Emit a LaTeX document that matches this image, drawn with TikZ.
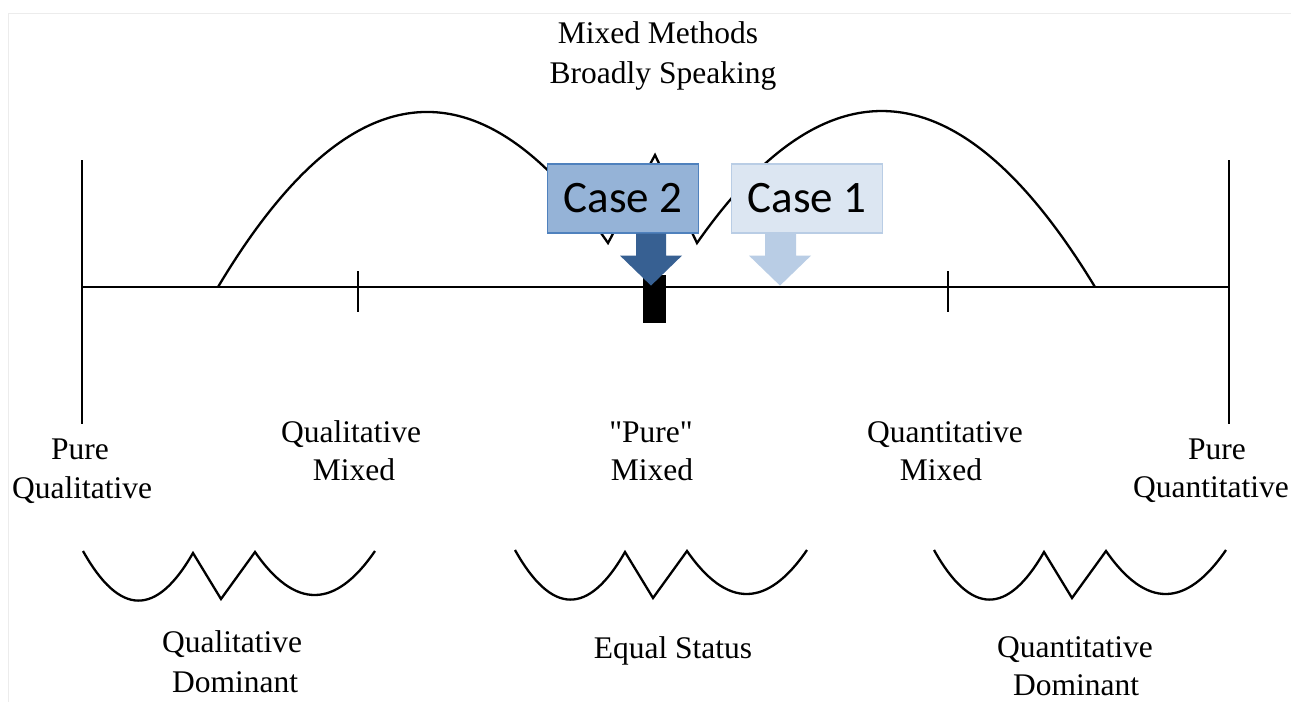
\documentclass[tikz,border=0pt]{standalone}
\usepackage{fontspec}
\setmainfont{Liberation Serif}[Ligatures=TeXOff]
\newfontfamily\calfont{Carlito}
\usetikzlibrary{calc}
\definecolor{casedark}{HTML}{95B3D7}
\definecolor{casedarkline}{HTML}{4F81BD}
\definecolor{caselight}{HTML}{DCE6F2}
\definecolor{caselightline}{HTML}{B9CDE5}
\definecolor{arrowdark}{HTML}{376092}
\definecolor{arrowlight}{HTML}{B9CDE5}
\begin{document}
\begin{tikzpicture}[x=1pt,y=-1pt,
  axis/.style={line width=2.6pt,black},
  curve/.style={line width=2.3pt,black,line join=miter},
  lbl/.style={font=\fontsize{31.5}{38}\selectfont,inner sep=0pt,anchor=base},
  casebox/.style={font=\calfont\fontsize{45}{50}\selectfont,inner sep=0pt,
    minimum width=151pt,minimum height=69pt,line width=1.2pt},
  wshape/.pic={\draw[curve] (0,0) .. controls (36.7,65.6) and (73.3,66) .. (110,2)
     -- (138,48) -- (172,1) .. controls (212,58.7) and (252,58.3) .. (292,0);}
]
\useasboundingbox (0,0) rectangle (1291,702);
\fill[white] (0,0) rectangle (1291,702);
% faint frame
\draw[gray!15,line width=1pt] (8,702) -- (8,13) -- (1291,13);

% title
\node[lbl] (t1) at (658,43) {Mixed Methods};
\node[lbl] (t2) at (663,83) {Broadly Speaking};

% axis
\coordinate (L) at (82,287);
\coordinate (R) at (1229,287);
\draw[axis] (L) -- (R);
\draw[axis] (82,160) -- (82,424);
\draw[axis] (1229,160) -- (1229,424);
\draw[axis] (358,271) -- (358,312);
\draw[axis] (948,271) -- (948,312);

% big curve
\draw[curve] (218,287) .. controls (348,69.3) and (478,54.7) .. (608,243)
  -- (655,155) -- (697,243)
  .. controls (829.7,53.4) and (962.3,68.1) .. (1095,287);

% black bar
\fill[black] (643,275) rectangle (666,323);

% case boxes
\node[casebox,draw=casedarkline,fill=casedark] (c2) at (623,198.5) {Case 2};
\node[casebox,draw=caselightline,fill=caselight] (c1) at (807,198.5) {Case 1};

% block arrows
\fill[arrowdark] ($(c2.south)+(13,0)$) -- ++(30,0) -- ++(0,22) -- ++(16,0)
  -- ($(c2.south)+(28,52)$) -- ($(c2.south)+(-3,22)$) -- ++(16,0) -- cycle;
\fill[arrowlight] ($(c1.south)+(-42,0)$) -- ++(31,0) -- ++(0,22) -- ++(15,0)
  -- ($(c1.south)+(-27,52)$) -- ($(c1.south)+(-58,22)$) -- ++(16,0) -- cycle;

% position labels
\node[lbl] (pq1) at (80,459) {Pure};
\node[lbl] (pq2) at (82,498) {Qualitative};
\node[lbl] (qm1) at (351,442) {Qualitative};
\node[lbl] (qm2) at (354,480) {Mixed};
\node[lbl] (pm1) at (651,442) {"Pure"};
\node[lbl] (pm2) at (652,480) {Mixed};
\node[lbl] (nm1) at (945,442) {Quantitative};
\node[lbl] (nm2) at (941,480) {Mixed};
\node[lbl] (pn1) at (1217,459) {Pure};
\node[lbl] (pn2) at (1211,497) {Quantitative};

% W shapes
\pic at (83,551) {wshape};
\pic at (515,550) {wshape};
\pic at (934,550) {wshape};

% bottom labels
\node[lbl] (qd1) at (232,652) {Qualitative};
\node[lbl] (qd2) at (235,692) {Dominant};
\node[lbl] (es) at (673,658) {Equal Status};
\node[lbl] (nd1) at (1075,657) {Quantitative};
\node[lbl] (nd2) at (1076,695) {Dominant};
\end{tikzpicture}
\end{document}
